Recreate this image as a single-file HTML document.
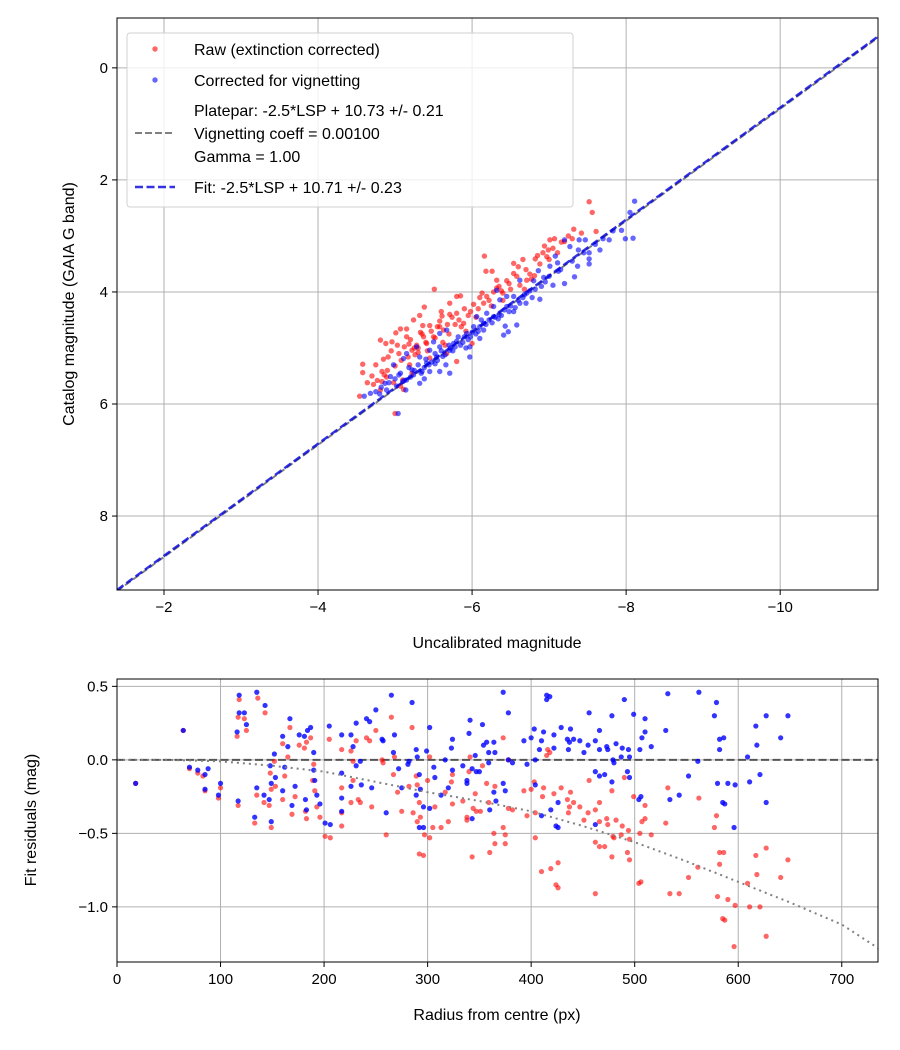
<!DOCTYPE html>
<html><head><meta charset="utf-8"><style>
html,body{margin:0;padding:0;background:#fff}
svg{display:block;font-family:"Liberation Sans","DejaVu Sans",sans-serif}
</style></head><body>
<svg id="chart" width="900" height="1050" xmlns="http://www.w3.org/2000/svg">
<rect width="900" height="1050" fill="#fff"/>
<g id="top"></g>
<g id="bot"></g>
</svg>
<script>
const topXTicks=[-2,-4,-6,-8,-10];
const topYTicks=[0,2,4,6,8];
const botXTicks=[0,100,200,300,400,500,600,700];
const botYTicks=[0.5,0.0,-0.5,-1.0];
const botYLabels=["0.5","0.0","\u22120.5","\u22121.0"];
const fitOffset=10.71;
const plateOffset=10.73;
const rawX=[-7.52,-7.56,-7.32,-7.61,-7.30,-7.01,-7.07,-7.16,-6.94,-6.99,-7.11,-6.97,-6.82,-6.66,-6.54,-6.16,-6.18,-6.26,-6.54,-6.71,-6.77,-6.81,-6.32,-6.45,-6.32,-5.51,-5.80,-5.85,-6.10,-6.19,-5.71,-5.38,-5.60,-5.61,-5.71,-5.80,-5.32,-5.24,-5.36,-5.45,-5.58,-5.78,-5.89,-5.07,-5.15,-5.01,-5.37,-4.81,-4.88,-4.96,-5.03,-5.18,-5.28,-5.22,-5.17,-5.30,-4.91,-4.58,-4.58,-5.19,-5.80,-5.67,-4.83,-4.77,-4.83,-4.89,-5.10,-5.07,-4.81,-4.54,-5.00,-5.11,-5.41,
-4.70,-4.75,-4.85,-4.95,-5.05,-5.12,-5.20,-5.25,-5.33,-5.40,-5.47,-5.52,-5.58,-5.63,-5.68,-5.74,-5.83,-5.90,-5.95,-6.02,-6.08,-6.13,-6.22,-6.28,-6.35,-6.40,-6.48,-6.58,-6.62,-6.70,-6.75,-6.88,-6.92,-7.05,-7.20,-4.72,-4.90,-5.00,-5.08,-5.15,-5.26,-5.35,-5.42,-5.50,-5.55,-5.62,-5.70,-5.86,-5.98,-6.05,-6.15,-6.25,-6.38,-6.50,-6.60,-6.85,-4.98,-5.22,-5.45,-5.65,-5.92,-6.00,-6.40,-6.68,-7.00,-7.25,-7.42,-4.64,-4.86,-5.30];
const rawY=[2.39,2.58,2.88,2.92,3.05,3.07,3.05,3.11,3.18,3.25,3.30,3.37,3.41,3.42,3.49,3.36,3.63,3.63,3.67,3.79,3.77,3.71,3.79,3.80,3.93,3.95,4.08,4.07,4.10,4.08,4.20,4.27,4.35,4.43,4.40,4.38,4.42,4.50,4.60,4.60,4.62,4.58,4.56,4.66,4.66,4.73,4.80,4.86,4.92,4.89,4.95,4.93,4.95,5.04,5.16,5.08,5.16,5.29,5.44,5.30,5.24,5.10,5.42,5.58,5.60,5.52,5.57,5.68,5.75,5.86,6.17,5.74,4.92,
5.50,5.30,5.20,5.05,5.10,4.98,4.85,5.00,4.72,4.90,4.70,4.82,4.52,4.68,4.58,4.45,4.50,4.30,4.42,4.22,4.30,4.02,4.15,4.00,3.90,4.02,3.85,3.72,3.88,3.60,3.68,3.50,3.30,3.22,3.10,5.65,5.40,5.32,5.22,4.80,5.12,4.75,5.05,4.80,4.62,4.90,4.75,4.62,4.35,4.45,4.20,4.25,3.98,3.95,3.55,3.35,5.62,5.45,5.18,4.95,4.70,4.92,4.15,3.95,3.42,3.00,2.95,5.62,5.48,5.00];
const corX=[-8.11,-8.05,-7.94,-7.83,-7.99,-8.09,-7.78,-7.66,-7.52,-7.52,-7.52,-7.37,-7.33,-7.20,-7.47,-7.39,-7.27,-7.38,-7.20,-7.11,-7.08,-7.01,-7.12,-6.86,-6.93,-6.80,-6.62,-6.71,-6.78,-6.88,-6.62,-6.54,-6.45,-6.32,-6.36,-6.45,-6.58,-6.54,-6.43,-6.41,-6.47,-6.28,-6.19,-6.28,-6.15,-6.06,-6.02,-6.10,-5.93,-5.97,-5.97,-5.82,-5.76,-5.67,-5.58,-5.71,-5.58,-5.54,-5.50,-5.45,-5.41,-5.58,-5.71,-5.32,-5.28,-5.15,-5.11,-5.22,-5.35,-5.45,-5.32,-5.15,-5.07,-4.98,-4.94,-4.87,-4.89,-5.14,-5.04,-4.68,-4.60,
-4.75,-4.82,-4.92,-5.00,-5.05,-5.10,-5.18,-5.20,-5.25,-5.30,-5.38,-5.40,-5.48,-5.52,-5.55,-5.60,-5.65,-5.70,-5.75,-5.80,-5.85,-5.90,-5.95,-6.00,-6.05,-6.10,-6.15,-6.22,-6.30,-6.35,-6.42,-6.50,-6.60,-6.68,-6.75,-6.90,-7.00,-7.15,-7.30,-7.60,-5.02,-5.12,-5.24,-5.34,-5.44,-5.52,-5.62,-5.72,-5.78,-5.88,-5.98,-6.08,-6.18,-6.26,-6.38,-6.48,-6.56,-6.66,-6.82,-6.95,-7.45,-7.70,-4.80,-5.38,-5.66,-5.92,-6.12,-6.34,-6.70,-7.05];
const corY=[2.38,2.58,2.90,2.91,3.05,3.04,3.07,3.25,3.30,3.41,3.50,3.54,3.73,3.85,3.07,3.07,3.19,3.25,3.07,3.48,3.36,3.54,3.63,3.62,3.74,3.80,3.79,4.02,4.10,4.13,4.20,4.08,4.08,3.97,4.14,4.26,4.59,4.35,4.61,4.77,4.71,4.26,4.38,4.44,4.56,4.44,4.62,4.83,4.74,4.98,5.16,4.80,4.92,4.68,4.74,5.04,4.98,5.16,4.89,5.04,5.27,5.42,5.45,5.16,4.98,5.10,5.19,5.39,5.42,5.42,5.63,5.57,5.45,5.30,5.51,5.63,5.75,5.75,6.17,5.81,5.86,
5.78,5.70,5.62,5.55,5.48,5.60,5.35,5.52,5.40,5.30,5.35,5.20,5.25,5.10,5.22,5.05,5.12,4.95,5.05,4.88,4.95,4.80,4.85,4.72,4.75,4.62,4.68,4.50,4.45,4.40,4.32,4.25,4.15,4.05,3.98,3.90,3.72,3.60,3.45,3.15,5.68,5.58,5.48,5.45,5.30,5.28,5.15,5.00,4.98,4.90,4.80,4.70,4.58,4.55,4.42,4.35,4.28,4.10,3.95,3.82,3.30,3.05,5.82,5.55,5.30,5.00,4.50,4.48,4.20,3.88];
const resRawR=[18,64,70,78,83,85,100,98,118,117,123,125,116,136,143,117,135,133,142,147,149,148,149,153,152,160,165,167,162,160,172,169,176,181,183,187,190,189,191,193,196,182,183,201,206,205,217,226,228,231,228,217,217,217,226,235,233,241,244,250,256,257,265,268,267,271,275,260,246,285,282,286,289,290,292,293,290,292,296,297,302,300,302,307,305,313,317,320,324,323,324,334,338,338,340,341,343,344,347,351,346,353,357,364,360,365,359,365,373,378,416,418,415,393,400,403,412,411,422,429,438,435,437,441,447,436,451,455,456,462,466,466,473,474,478,482,488,487,490,494,495,479,480,499,505,507,510,510,516,530,532,562,579,577,582,586,582,561,609,617,618,627,641,648,396,404,404,375,373,378,382,462,466,471,478,493,495,552,580,590,597,611,621,375,410,419,426,424,426,462,504,506,534,543,585,587,627,596];
const resRawV=[-0.16,0.20,-0.06,-0.09,-0.11,-0.21,-0.19,-0.26,0.41,0.29,0.28,0.20,0.16,0.42,0.32,-0.31,-0.24,-0.43,-0.29,-0.31,-0.46,-0.09,-0.20,-0.18,-0.01,0.11,0.02,0.22,-0.11,-0.27,-0.25,-0.37,0.10,0.08,0.12,0.15,-0.03,-0.14,-0.21,-0.32,-0.39,-0.35,-0.40,-0.52,-0.53,0.14,0.07,0.06,-0.01,0.13,-0.14,-0.19,-0.36,-0.45,-0.29,-0.29,-0.27,0.15,0.13,0.20,0.00,-0.02,0.29,0.02,-0.10,-0.22,-0.35,-0.51,-0.32,0.22,-0.18,-0.36,-0.11,-0.17,-0.29,-0.39,-0.42,-0.64,-0.65,-0.51,-0.53,-0.14,0.02,-0.32,-0.46,-0.46,-0.22,-0.42,-0.30,-0.15,-0.10,-0.28,-0.39,-0.41,-0.08,0.02,-0.66,-0.33,-0.35,-0.35,-0.23,-0.04,-0.16,-0.50,-0.63,-0.57,-0.29,-0.18,0.15,0.00,0.07,0.05,0.03,-0.21,-0.20,-0.15,-0.19,-0.25,-0.23,-0.19,-0.22,-0.27,-0.32,-0.29,-0.32,-0.36,-0.41,-0.36,-0.14,-0.34,-0.29,-0.42,-0.40,-0.44,-0.21,-0.41,-0.45,-0.51,-0.12,-0.48,-0.54,-0.52,-0.53,-0.25,-0.50,-0.42,-0.31,-0.40,-0.51,-0.43,-0.19,-0.26,-0.38,-0.46,-0.63,-0.63,-0.71,-0.73,-0.84,-0.65,-0.78,-0.60,-0.80,-0.68,-0.38,-0.36,-0.53,-0.51,-0.46,-0.33,-0.34,-0.56,-0.59,-0.59,-0.66,-0.63,-0.68,-0.80,-0.93,-0.95,-0.99,-1.00,-1.00,-0.57,-0.76,-0.74,-0.70,-0.85,-0.87,-0.91,-0.84,-0.83,-0.91,-0.91,-1.08,-1.09,-1.20,-1.27];
const resCorR=[18,64,70,78,85,88,85,100,98,118,118,123,125,116,135,143,117,135,133,142,147,149,148,149,153,152,160,165,167,162,160,172,169,176,181,184,187,190,190,191,193,196,182,183,201,206,205,217,226,228,231,235,231,217,217,217,226,236,241,244,250,256,257,265,267,268,272,275,260,246,282,281,285,289,290,292,293,289,296,302,292,296,299,302,306,307,313,317,320,324,323,324,334,338,338,340,341,346,343,347,350,343,353,354,357,364,359,365,359,364,366,360,373,378,393,400,403,412,415,418,415,410,408,422,422,429,438,435,437,441,447,436,451,455,456,462,466,466,473,474,478,482,488,487,490,494,495,479,480,499,505,507,510,510,516,530,532,562,579,577,582,586,582,561,609,617,618,627,641,648,396,404,382,378,462,466,471,478,493,495,552,580,590,597,611,621,373,375,404,426,419,410,424,426,462,504,506,534,543,585,587,627,596];
const resCorV=[-0.16,0.20,-0.05,-0.07,-0.10,-0.06,-0.20,-0.16,-0.24,0.44,0.32,0.32,0.24,0.19,0.46,0.37,-0.28,-0.19,-0.39,-0.24,-0.27,-0.42,-0.04,-0.16,-0.12,0.04,0.16,0.09,0.28,-0.05,-0.21,-0.18,-0.31,0.17,0.16,0.20,0.22,0.05,-0.07,-0.14,-0.24,-0.30,-0.27,-0.34,-0.43,-0.44,0.23,0.17,0.17,0.09,0.25,-0.01,-0.04,-0.09,-0.26,-0.35,-0.18,-0.17,0.28,0.26,0.34,0.14,0.13,0.44,0.05,0.17,-0.06,-0.19,-0.36,-0.19,-0.01,-0.03,0.39,0.07,0.02,-0.10,-0.20,-0.24,-0.32,-0.33,-0.46,-0.46,0.06,0.22,-0.05,-0.12,-0.24,0.00,-0.19,-0.07,0.08,0.14,-0.04,-0.14,-0.16,0.18,0.27,0.03,-0.06,-0.08,-0.08,-0.40,0.24,0.10,0.12,0.12,0.05,0.05,-0.02,-0.22,-0.28,-0.34,0.46,0.32,0.13,0.15,0.21,0.19,0.44,0.43,0.41,0.13,0.07,0.17,0.08,0.22,0.21,0.14,0.12,0.14,0.13,0.07,0.05,0.10,0.32,0.13,0.20,0.07,0.09,0.07,0.30,0.11,0.08,0.02,0.41,0.07,0.02,0.00,-0.02,0.31,0.07,0.15,0.28,0.19,0.09,0.20,0.45,0.46,0.39,0.30,0.14,0.15,0.07,-0.01,0.02,0.23,0.10,0.30,0.15,0.30,-0.03,0.00,-0.02,0.00,-0.08,-0.11,-0.10,-0.15,-0.08,-0.12,-0.11,-0.16,-0.16,-0.17,-0.15,-0.10,-0.16,-0.21,-0.17,-0.29,-0.34,-0.38,-0.45,-0.46,-0.44,-0.27,-0.25,-0.27,-0.24,-0.29,-0.30,-0.29,-0.46];
const vigR=[0,50,100,150,200,250,300,350,400,450,500,550,600,650,700,735];
const vigV=[0,0,-0.01,-0.04,-0.08,-0.15,-0.22,-0.28,-0.35,-0.45,-0.56,-0.69,-0.83,-0.97,-1.12,-1.28];

const NS="http://www.w3.org/2000/svg";
function mk(p,tag,at,txt){const e=document.createElementNS(NS,tag);for(const k in at)e.setAttribute(k,at[k]);if(txt!==undefined)e.textContent=txt;p.appendChild(e);return e;}
const T={l:117,r:878,t:18,b:590,x0:-1.39,x1:-11.27,y0:-0.89,y1:9.32};
const tx=v=>T.l+(v-T.x0)/(T.x1-T.x0)*(T.r-T.l);
const ty=v=>T.t+(v-T.y0)/(T.y1-T.y0)*(T.b-T.t);
const B={l:117,r:878,t:679,b:962,x0:0,x1:735,y0:0.55,y1:-1.375};
const bx=v=>B.l+(v-B.x0)/(B.x1-B.x0)*(B.r-B.l);
const by=v=>B.t+(v-B.y0)/(B.y1-B.y0)*(B.b-B.t);
const gt=document.getElementById('top'),gb=document.getElementById('bot');
function clip(id,A){const d=mk(document.getElementById('chart'),'clipPath',{id:id});mk(d,'rect',{x:A.l,y:A.t,width:A.r-A.l,height:A.b-A.t});}
clip('ct',T);clip('cb',B);
topXTicks.forEach(v=>{const x=tx(v);
 const g=mk(gt,'line',{x1:x,x2:x,y1:T.t,y2:T.b,stroke:'#b0b0b0','stroke-width':1});
 mk(gt,'line',{x1:x,x2:x,y1:T.b,y2:T.b+5,stroke:'#000'});
 const t=mk(gt,'text',{x:x,y:T.b+22,'font-size':15,'text-anchor':'middle'},'\u2212'+Math.abs(v));});
topYTicks.forEach(v=>{const y=ty(v);
 const g=mk(gt,'line',{x1:T.l,x2:T.r,y1:y,y2:y,stroke:'#b0b0b0','stroke-width':1});
 mk(gt,'line',{x1:T.l-5,x2:T.l,y1:y,y2:y,stroke:'#000'});
 const t=mk(gt,'text',{x:T.l-9,y:y+5,'font-size':15,'text-anchor':'end'},String(v));});
const pts=mk(gt,'g',{'clip-path':'url(#ct)'});
const pl=mk(pts,'line',{x1:tx(T.x0),y1:ty(T.x0+plateOffset),x2:tx(T.x1),y2:ty(T.x1+plateOffset),stroke:'#808080','stroke-width':2,'stroke-dasharray':'7,3'});

rawX.forEach((v,i)=>{const c=mk(pts,'circle',{cx:tx(v),cy:ty(rawY[i]),r:2.7,fill:'#ff0000','fill-opacity':0.6});});
corX.forEach((v,i)=>{const c=mk(pts,'circle',{cx:tx(v),cy:ty(corY[i]),r:2.7,fill:'#0000ff','fill-opacity':0.6});});
const fl=mk(pts,'line',{x1:tx(T.x0),y1:ty(T.x0+fitOffset),x2:tx(T.x1),y2:ty(T.x1+fitOffset),stroke:'#0000dd','stroke-opacity':0.8,'stroke-width':2.5,'stroke-dasharray':'8,3.5'});

mk(gt,'rect',{x:T.l,y:T.t,width:T.r-T.l,height:T.b-T.t,fill:'none',stroke:'#000','stroke-width':1});
let e=mk(gt,'text',{x:497,y:648,'font-size':16,'text-anchor':'middle'},'Uncalibrated magnitude');
e=mk(gt,'text',{x:0,y:0,'font-size':16,'text-anchor':'middle',transform:'translate(74,304) rotate(-90)'},'Catalog magnitude (GAIA G band)');
const lg=mk(gt,'g',{});
mk(lg,'rect',{x:127,y:33,width:446,height:174,rx:3,fill:'#fff','fill-opacity':0.8,stroke:'#d0d0d0'});
mk(lg,'circle',{cx:155,cy:49,r:2.7,fill:'#ff0000','fill-opacity':0.6});
mk(lg,'circle',{cx:155,cy:80,r:2.7,fill:'#0000ff','fill-opacity':0.6});
mk(lg,'line',{x1:135,x2:175,y1:133,y2:133,stroke:'#808080','stroke-width':2,'stroke-dasharray':'7,3'});
mk(lg,'line',{x1:135,x2:175,y1:187,y2:187,stroke:'#0000dd','stroke-opacity':0.8,'stroke-width':2.5,'stroke-dasharray':'8,3.5'});
[['Raw (extinction corrected)',55],['Corrected for vignetting',86],['Platepar: -2.5*LSP + 10.73 +/- 0.21',116],['Vignetting coeff = 0.00100',139],['Gamma = 1.00',162],['Fit: -2.5*LSP + 10.71 +/- 0.23',193]].forEach(a=>{const t=mk(lg,'text',{x:194,y:a[1],'font-size':16},a[0]);});
botXTicks.forEach(v=>{const x=bx(v);
 const g=mk(gb,'line',{x1:x,x2:x,y1:B.t,y2:B.b,stroke:'#b0b0b0','stroke-width':1});
 mk(gb,'line',{x1:x,x2:x,y1:B.b,y2:B.b+5,stroke:'#000'});
 const t=mk(gb,'text',{x:x,y:B.b+22,'font-size':15,'text-anchor':'middle'},String(v));});
botYTicks.forEach((v,i)=>{const y=by(v);
 const g=mk(gb,'line',{x1:B.l,x2:B.r,y1:y,y2:y,stroke:'#b0b0b0','stroke-width':1});
 mk(gb,'line',{x1:B.l-5,x2:B.l,y1:y,y2:y,stroke:'#000'});
 const t=mk(gb,'text',{x:B.l-9,y:y+5,'font-size':15,'text-anchor':'end'},botYLabels[i]);});
const bp=mk(gb,'g',{'clip-path':'url(#cb)'});
e=mk(bp,'line',{x1:B.l,x2:B.r,y1:by(0),y2:by(0),stroke:'#555','stroke-width':2,'stroke-dasharray':'8,3.5'});
resRawR.forEach((v,i)=>{const c=mk(bp,'circle',{cx:bx(v),cy:by(resRawV[i]),r:2.6,fill:'#ff0000','fill-opacity':0.6});});
resCorR.forEach((v,i)=>{const c=mk(bp,'circle',{cx:bx(v),cy:by(resCorV[i]),r:2.6,fill:'#0000ff','fill-opacity':0.8});});
e=mk(bp,'polyline',{points:vigR.map((r,i)=>bx(r)+','+by(vigV[i])).join(' '),fill:'none',stroke:'#808080','stroke-width':2,'stroke-dasharray':'2,4'});
mk(gb,'rect',{x:B.l,y:B.t,width:B.r-B.l,height:B.b-B.t,fill:'none',stroke:'#000','stroke-width':1});
e=mk(gb,'text',{x:497,y:1020,'font-size':16,'text-anchor':'middle'},'Radius from centre (px)');
e=mk(gb,'text',{x:0,y:0,'font-size':16,'text-anchor':'middle',transform:'translate(36,820) rotate(-90)'},'Fit residuals (mag)');
</script>
</body></html>
